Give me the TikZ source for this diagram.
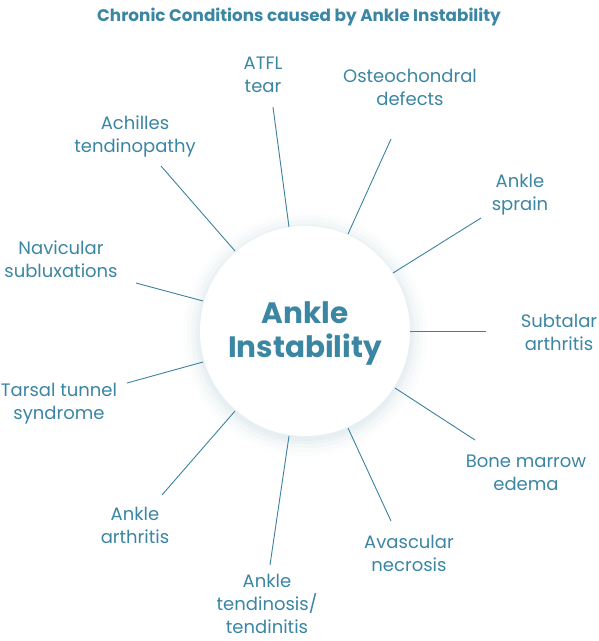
\documentclass[tikz,border=0pt]{standalone}
\usepackage{fontspec}
\setmainfont{Poppins}
\definecolor{teal}{HTML}{3B86A3}
\definecolor{linec}{HTML}{3D82A0}
\definecolor{glow}{HTML}{C9DCE4}
\begin{document}
\begin{tikzpicture}[x=1pt,y=-1pt,
  lbl/.style={text=teal,align=center,font=\fontsize{18}{23}\selectfont,inner sep=0pt},
  conn/.style={draw=linec,line width=0.9pt}]
\useasboundingbox (0,0) rectangle (599,641);
\fill[white] (0,0) rectangle (599,641);
% glow
\foreach \r/\o in {122/0.05,118/0.07,114/0.09,110/0.12,107/0.15}{
  \fill[glow,opacity=\o] (305,334) circle (\r);
}
\node[circle,fill=white,minimum size=210pt,inner sep=0pt] (c) at (305,331) {};
\node[text=teal,align=center,font=\bfseries\fontsize{29.5}{34}\selectfont] (ct) at (305,333) {Ankle\\Instability};
\node[text=teal,font=\bfseries\fontsize{16.8}{18}\selectfont] (title) at (299,17) {Chronic Conditions caused by Ankle Instability};
% labels
\node[lbl] (atfl) at (263,75) {ATFL\\tear};
\node[lbl] (osteo) at (410,87) {Osteochondral\\defects};
\node[lbl] (achil) at (135,136) {Achilles\\tendinopathy};
\node[lbl] (sprain) at (520,195) {Ankle\\sprain};
\node[lbl] (navic) at (61,259) {Navicular\\subluxations};
\node[lbl] (subt) at (559,332) {Subtalar\\arthritis};
\node[lbl] (tars) at (59,404) {Tarsal tunnel\\syndrome};
\node[lbl] (bone) at (526,473) {Bone marrow\\edema};
\node[lbl] (arth) at (135,525) {Ankle\\arthritis};
\node[lbl] (avas) at (409,553) {Avascular\\necrosis};
\node[lbl] (tend) at (267,604) {Ankle\\tendinosis/\\tendinitis};
% connector end points
\coordinate (a1) at (289,227); \coordinate (b1) at (273,107);
\coordinate (a2) at (348,234); \coordinate (b2) at (391,139);
\coordinate (a3) at (393,273); \coordinate (b3) at (481,218);
\coordinate (a4) at (410,331); \coordinate (b4) at (486,331);
\coordinate (a5) at (395,388); \coordinate (b5) at (475,440);
\coordinate (a6) at (348,428); \coordinate (b6) at (391,521);
\coordinate (a7) at (289,436); \coordinate (b7) at (270,565);
\coordinate (a8) at (235,411); \coordinate (b8) at (162,495);
\coordinate (a9) at (203,362); \coordinate (b9) at (127,383);
\coordinate (a10) at (203,301); \coordinate (b10) at (136,283);
\coordinate (a11) at (235,251); \coordinate (b11) at (161,166);
\foreach \i in {1,...,11}{\draw[conn] (a\i) -- (b\i);}
\end{tikzpicture}
\end{document}
